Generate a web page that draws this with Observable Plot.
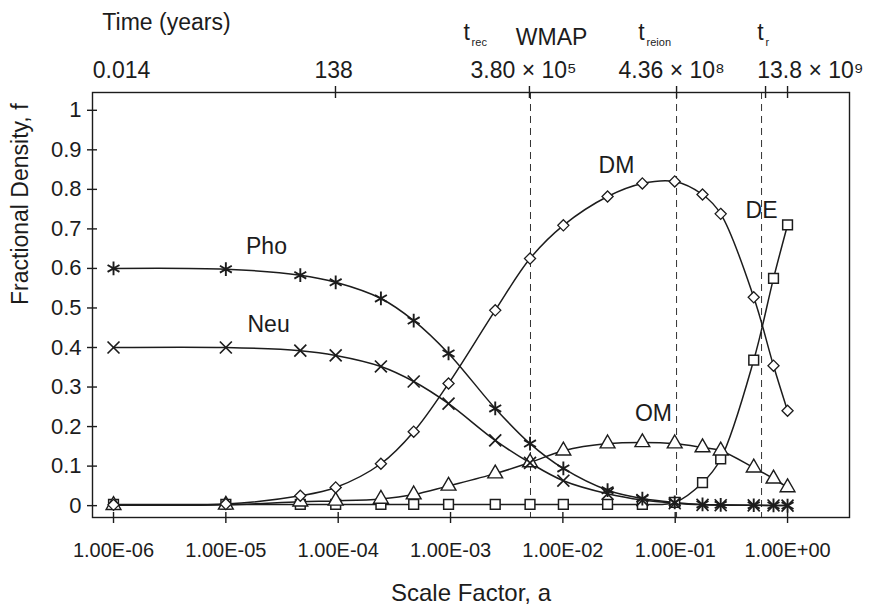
<!DOCTYPE html>
<html>
<head>
<meta charset="utf-8">
<script src="https://cdn.jsdelivr.net/npm/d3@7"></script>
<script src="https://cdn.jsdelivr.net/npm/@observablehq/plot@0.6"></script>
<style>
  html, body { margin: 0; padding: 0; background: #fff; }
  svg { display: block; }
</style>
</head>
<body>
<div id="chart"></div>
<script>
// ---- Data ----
const scaleFactor = [1e-6, 1e-5, 4.6e-5, 9.5e-5, 2.4e-4, 4.7e-4, 9.6e-4, 2.5e-3, 5.1e-3, 0.0101, 0.025, 0.051, 0.099, 0.175, 0.254, 0.5, 0.75, 1.0];
const pho = [0.600, 0.598, 0.583, 0.565, 0.524, 0.468, 0.385, 0.246, 0.157, 0.094, 0.039, 0.018, 0.008, 0.003, 0.002, 0.001, 0.0005, 0.0003];
const neu = [0.400, 0.400, 0.392, 0.380, 0.352, 0.314, 0.258, 0.165, 0.108, 0.063, 0.030, 0.014, 0.006, 0.002, 0.001, 0.0008, 0.0004, 0.0002];
const dm  = [0.002, 0.004, 0.025, 0.046, 0.106, 0.187, 0.309, 0.494, 0.625, 0.709, 0.782, 0.815, 0.820, 0.787, 0.738, 0.527, 0.354, 0.240];
const om  = [0.001, 0.002, 0.010, 0.012, 0.017, 0.028, 0.050, 0.081, 0.109, 0.139, 0.157, 0.160, 0.157, 0.147, 0.139, 0.096, 0.068, 0.046];
const de  = [0.003, 0.003, 0.003, 0.003, 0.003, 0.003, 0.003, 0.003, 0.003, 0.003, 0.003, 0.003, 0.008, 0.058, 0.118, 0.368, 0.575, 0.710];

const seriesNames = ["Pho", "Neu", "DM", "DE", "OM"];
const labelA = [2.3e-5, 2.4e-5, 0.030, 0.587, 0.064];
const labelF = [0.656, 0.458, 0.861, 0.747, 0.233];

const xTicks = [1e-6, 1e-5, 1e-4, 1e-3, 1e-2, 1e-1, 1];
const xTickLabels = ["1.00E-06", "1.00E-05", "1.00E-04", "1.00E-03", "1.00E-02", "1.00E-01", "1.00E+00"];
const yTicks = [0, 0.1, 0.2, 0.3, 0.4, 0.5, 0.6, 0.7, 0.8, 0.9, 1];
const yTickLabels = ["0", "0.1", "0.2", "0.3", "0.4", "0.5", "0.6", "0.7", "0.8", "0.9", "1"];

// epochs marked by dashed lines (t_rec / WMAP, t_reion, t_r)
const epochA = [0.00515, 0.1028, 0.587];

// top "Time (years)" axis
const timeTickA = [9.46e-5, 5.04e-3, 0.1028, 0.637, 1.0];
const timeLabels = ["0.014", "138", "3.80 × 10⁵", "4.36 × 10⁸", "13.8 × 10⁹"];
const timeLabelA = [1.18e-6, 9.1e-5, 4.47e-3, 0.093, 1.6];

const epochNames = ["t", "t", "t"];
const epochSubs = ["rec", "reion", "r"];
const epochNameA = [1.39e-3, 0.0501, 0.575];
const epochSubA = [1.54e-3, 0.0556, 0.637];
const wmapA = [7.93e-3];
const timeTitleA = [2.96e-6];

const xDomain = [6.5e-7, 3.56];
const yDomain = [-0.03, 1.045];

const rows = (vals) => scaleFactor.map((a, i) => ({a, f: vals[i]}));
const ink = "#1c1c1c";
const lineOpts = {x: "a", y: "f", curve: "catmull-rom", stroke: ink, strokeWidth: 1.5};

const font = "'Liberation Sans', Arial, Helvetica, sans-serif";

const chart = Plot.plot({
  width: 871,
  height: 607,
  marginLeft: 92,
  marginRight: 22,
  marginTop: 92,
  marginBottom: 90,
  style: {fontFamily: font, fontSize: "21px", color: ink, background: "#fff"},
  x: {type: "log", domain: xDomain, axis: null},
  y: {domain: yDomain, axis: null},
  marks: [
    // dashed epoch lines
    Plot.ruleX(epochA, {x: d => d, stroke: "#333", strokeWidth: 1, strokeDasharray: "7,5"}),
    Plot.frame({stroke: ink, strokeWidth: 1.4}),
    // axis ticks crossing the frame
    Plot.ruleY(yTicks, {y: d => d, x1: xDomain[0], x2: xDomain[0], insetLeft: -5, insetRight: -5, stroke: ink, strokeWidth: 1.4}),
    Plot.ruleX(xTicks, {x: d => d, y1: yDomain[0], y2: yDomain[0], insetTop: -5, insetBottom: -6, stroke: ink, strokeWidth: 1.4}),
    Plot.ruleX(timeTickA, {x: d => d, y1: yDomain[1], y2: yDomain[1], insetTop: -6, insetBottom: -6, stroke: ink, strokeWidth: 1.4}),
    // tick labels
    Plot.text(xTicks, {x: d => d, text: (d, i) => xTickLabels[i], frameAnchor: "bottom", dy: 33, lineAnchor: "middle", fontSize: 20, fill: ink}),
    Plot.text(yTicks, {y: d => d, text: (d, i) => yTickLabels[i], frameAnchor: "left", textAnchor: "end", dx: -11, fontSize: 22, fill: ink}),
    Plot.text(timeLabelA, {x: d => d, text: (d, i) => timeLabels[i], frameAnchor: "top", dy: -22, lineAnchor: "middle", fontSize: 23, fill: ink}),
    // top annotations
    Plot.text(timeTitleA, {x: d => d, text: () => "Time (years)", frameAnchor: "top", dy: -70, lineAnchor: "middle", fontSize: 23, fill: ink}),
    Plot.text(wmapA, {x: d => d, text: () => "WMAP", frameAnchor: "top", dy: -55, lineAnchor: "middle", fontSize: 23, fill: ink}),
    Plot.text(epochNameA, {x: d => d, text: (d, i) => epochNames[i], frameAnchor: "top", dy: -60, lineAnchor: "middle", fontSize: 23, fill: ink}),
    Plot.text(epochSubA, {x: d => d, text: (d, i) => epochSubs[i], frameAnchor: "top", dy: -50, lineAnchor: "middle", textAnchor: "start", fontSize: 11, fill: ink}),
    // axis titles
    Plot.text(["Scale Factor, a"], {frameAnchor: "bottom", dy: 76, lineAnchor: "middle", fontSize: 24, fill: ink}),
    Plot.text(["Fractional Density, f"], {frameAnchor: "left", dx: -72, rotate: -90, lineAnchor: "middle", fontSize: 23, fill: ink}),
    // series lines
    Plot.line(rows(pho), lineOpts),
    Plot.line(rows(neu), lineOpts),
    Plot.line(rows(dm), lineOpts),
    Plot.line(rows(om), lineOpts),
    Plot.line(rows(de), lineOpts),
    // markers
    Plot.dot(rows(de), {x: "a", y: "f", symbol: "square", r: 5.5, fill: "#fff", stroke: ink, strokeWidth: 1.5}),
    Plot.dot(rows(om), {x: "a", y: "f", symbol: "triangle", r: 5.5, fill: "#fff", stroke: ink, strokeWidth: 1.4}),
    Plot.dot(rows(dm), {x: "a", y: "f", symbol: "diamond2", r: 5, fill: "#fff", stroke: ink, strokeWidth: 1.3}),
    Plot.dot(rows(neu), {x: "a", y: "f", symbol: "times", r: 5.5, stroke: ink, strokeWidth: 1.7}),
    Plot.dot(rows(pho), {x: "a", y: "f", symbol: "asterisk", r: 6.5, stroke: ink, strokeWidth: 1.9}),
    // series labels
    Plot.text(labelA, {x: d => d, y: (d, i) => labelF[i], text: (d, i) => seriesNames[i], fontSize: 23, fill: ink})
  ]
});
document.getElementById("chart").appendChild(chart);
</script>
</body>
</html>
